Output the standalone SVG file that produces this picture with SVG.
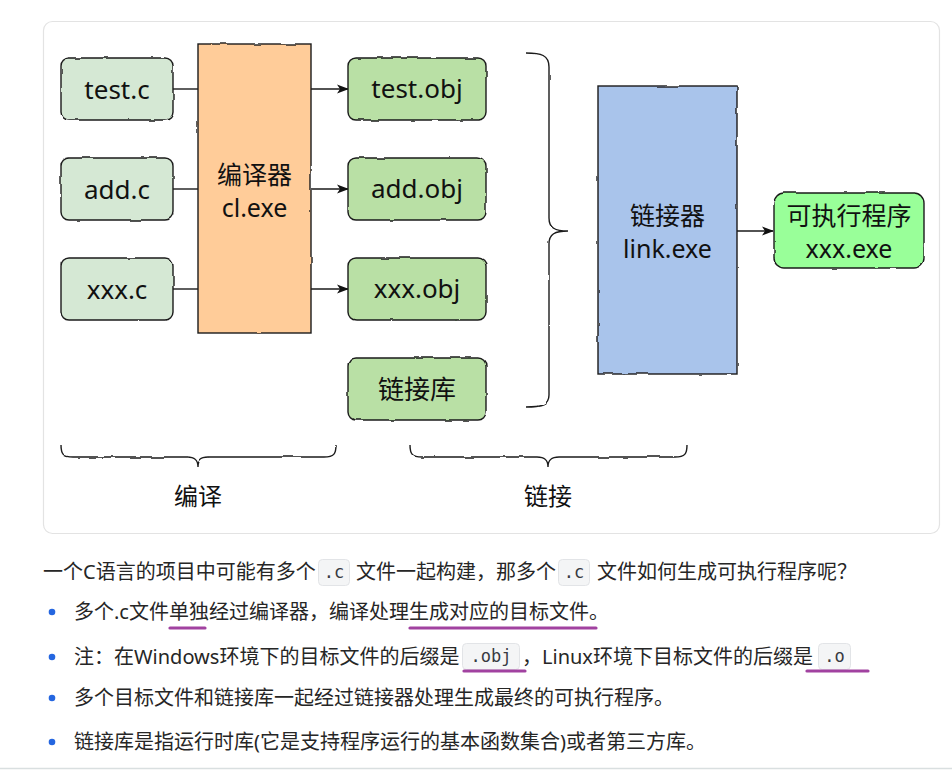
<svg xmlns="http://www.w3.org/2000/svg" width="952" height="770" viewBox="0 0 952 770">
<defs>
<filter id="rough" x="-5%" y="-5%" width="110%" height="110%">
<feTurbulence type="fractalNoise" baseFrequency="0.06" numOctaves="2" seed="4"/>
<feDisplacementMap in="SourceGraphic" scale="2.6" xChannelSelector="R" yChannelSelector="G"/>
</filter>
<marker id="arr" viewBox="0 0 12 10" markerWidth="12" markerHeight="10" refX="11" refY="5" orient="auto" markerUnits="userSpaceOnUse">
<path d="M0,0.5 L12,5 L0,9.5 L3,5 Z" fill="#111"/>
</marker>
<style>
.shape{stroke:#1a1a1a;stroke-width:1.4;filter:url(#rough)}
.src{fill:#d5e8d4}
.obj{fill:#b9e0a5}
.lbl{font-family:"Noto Sans","Noto Sans CJK SC",sans-serif;font-size:26px;fill:#111;text-anchor:middle}
.lbl2{font-family:"Noto Sans","Noto Sans CJK SC",sans-serif;font-size:25px;fill:#111;text-anchor:middle}
.conn{stroke:#1a1a1a;stroke-width:1.4;fill:none}
.brace{stroke:#1a1a1a;stroke-width:1.4;fill:none;filter:url(#rough)}
.body{font-family:"Noto Sans","Noto Sans CJK SC",sans-serif;font-size:20px;fill:#262626}
.code{font-family:"DejaVu Sans Mono","Liberation Mono",monospace;font-size:17px;fill:#383a42;text-anchor:middle}
.cbox{fill:#f4f5f6;stroke:#e2e4e7;stroke-width:1}
.ul{stroke:#a142a0;stroke-width:3.2;stroke-linecap:round}
.dot{fill:#2466e0}
</style>
</defs>
<rect x="43.5" y="21.5" width="896" height="512" rx="9" fill="#fff" stroke="#e3e3e3" stroke-width="1.2"/>

<g id="connectors">
<line class="conn" x1="173" y1="89" x2="198" y2="89"/>
<line class="conn" x1="173" y1="189" x2="198" y2="189"/>
<line class="conn" x1="173" y1="289" x2="198" y2="289"/>
<line class="conn" x1="311" y1="89" x2="348" y2="89" marker-end="url(#arr)"/>
<line class="conn" x1="311" y1="189" x2="348" y2="189" marker-end="url(#arr)"/>
<line class="conn" x1="311" y1="289" x2="348" y2="289" marker-end="url(#arr)"/>
<line class="conn" x1="737" y1="231" x2="773" y2="231" marker-end="url(#arr)"/>
<path class="brace" d="M526,53 C541,53 549,55 549,67 L549,218 C549,228 555,231 568,231 C555,231 549,234 549,244 L549,395 C549,405 541,407 526,407"/>
<path class="brace" d="M61,445 C61,454 63,457 73,457 L187,457 C195,457 198,460 198,467 C198,460 201,457 209,457 L324,457 C334,457 336,454 336,445"/>
<path class="brace" d="M410,445 C410,454 412,457 422,457 L537,457 C545,457 548,460 548,467 C548,460 551,457 559,457 L675,457 C685,457 687,454 687,445"/>
</g>

<g id="n-test-c"><rect class="shape src" x="61" y="58" width="112" height="62" rx="8"/><text class="lbl" x="117" y="99">test.c</text></g>
<g id="n-add-c"><rect class="shape src" x="61" y="158" width="112" height="62" rx="8"/><text class="lbl" x="117" y="199">add.c</text></g>
<g id="n-xxx-c"><rect class="shape src" x="61" y="258" width="112" height="62" rx="8"/><text class="lbl" x="117" y="299">xxx.c</text></g>

<g id="n-compiler"><rect class="shape" fill="#ffcc99" x="198" y="44" width="113" height="289"/><text class="lbl2" x="254.5" y="184">编译器</text><text class="lbl2" x="254.5" y="217">cl.exe</text></g>

<g id="n-test-obj"><rect class="shape obj" x="348" y="58" width="138" height="62" rx="8"/><text class="lbl" x="417" y="98">test.obj</text></g>
<g id="n-add-obj"><rect class="shape obj" x="348" y="158" width="138" height="62" rx="8"/><text class="lbl" x="417" y="198">add.obj</text></g>
<g id="n-xxx-obj"><rect class="shape obj" x="348" y="258" width="138" height="62" rx="8"/><text class="lbl" x="417" y="298">xxx.obj</text></g>
<g id="n-lib"><rect class="shape obj" x="348" y="358" width="138" height="62" rx="8"/><text class="lbl" x="417" y="399">链接库</text></g>

<g id="n-linker"><rect class="shape" fill="#a9c4eb" x="598" y="86" width="139" height="288"/><text class="lbl2" x="667.5" y="225">链接器</text><text class="lbl2" x="667.5" y="258">link.exe</text></g>

<g id="n-exe"><rect class="shape" fill="#99ff99" x="774" y="193" width="150" height="75" rx="10"/><text class="lbl2" x="849" y="225">可执行程序</text><text class="lbl2" x="849" y="258">xxx.exe</text></g>

<g id="labels">
<text class="lbl" x="198" y="505" style="font-size:24px">编译</text>
<text class="lbl" x="548" y="505" style="font-size:24px">链接</text>
</g>

<g id="notes">
<text class="body" x="43" y="579">一个C语言的项目中可能有多个</text>
<rect class="cbox" x="318.5" y="559.5" width="31" height="26" rx="4"/>
<text class="code" x="334" y="578">.c</text>
<text class="body" x="356" y="579">文件一起构建，那多个</text>
<rect class="cbox" x="558.5" y="559.5" width="31" height="26" rx="4"/>
<text class="code" x="574" y="578">.c</text>
<text class="body" x="597" y="579">文件如何生成可执行程序呢？</text>

<circle class="dot" cx="52" cy="612" r="3.3"/>
<text class="body" x="74" y="619">多个.c文件单独经过编译器，编译处理生成对应的目标文件。</text>
<line class="ul" x1="170" y1="628" x2="205" y2="628"/>
<line class="ul" x1="410" y1="628" x2="596" y2="628"/>

<circle class="dot" cx="52" cy="657" r="3.3"/>
<text class="body" x="74" y="664">注：在Windows环境下的目标文件的后缀是</text>
<rect class="cbox" x="462.5" y="643.5" width="57" height="26" rx="4"/>
<text class="code" x="491" y="662">.obj</text>
<text class="body" x="522" y="664">，Linux环境下目标文件的后缀是</text>
<rect class="cbox" x="818.5" y="643.5" width="32" height="26" rx="4"/>
<text class="code" x="834.5" y="662">.o</text>
<line class="ul" x1="464" y1="671" x2="525" y2="671"/>
<line class="ul" x1="807" y1="671" x2="868" y2="671"/>

<circle class="dot" cx="52" cy="698" r="3.3"/>
<text class="body" x="74" y="705">多个目标文件和链接库一起经过链接器处理生成最终的可执行程序。</text>

<circle class="dot" cx="52" cy="742" r="3.3"/>
<text class="body" x="74" y="749">链接库是指运行时库(它是支持程序运行的基本函数集合)或者第三方库。</text>
<line x1="0" y1="768.5" x2="952" y2="768.5" stroke="#d9dfe0" stroke-width="1.5"/>
</g>
</svg>
